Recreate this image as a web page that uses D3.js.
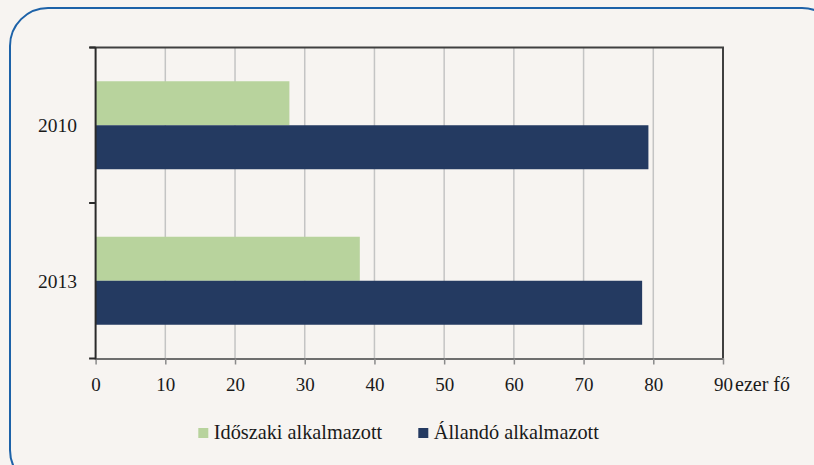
<!DOCTYPE html>
<html>
<head>
<meta charset="utf-8">
<script src="https://cdn.jsdelivr.net/npm/d3@7"></script>
<style>
  body { margin: 0; background: #f7f4f1; }
  svg text { font-family: "Liberation Serif", "Times New Roman", "Noto Serif", "DejaVu Serif", Georgia, serif !important; }
</style>
</head>
<body>
<div class="div-chart"></div>
<script>
// chart data
const years = ["2010", "2013"];
const seriesNames = ["Időszaki alkalmazott", "Állandó alkalmazott"];
const temporaryValues = [27.8, 37.9];
const permanentValues = [79.3, 78.4];
const xTicks = [0, 10, 20, 30, 40, 50, 60, 70, 80, 90];
const unitLabel = "ezer fő";

const width = 814,
  height = 465;

const colors = ["#b8d39d", "#243a61"];

const svg = d3
  .select(".div-chart")
  .append("svg")
  .attr("width", width)
  .attr("height", height);

// rounded frame
svg
  .append("rect")
  .attr("x", 10)
  .attr("y", 8)
  .attr("width", 830)
  .attr("height", 480)
  .attr("rx", 38)
  .attr("fill", "#f7f4f1")
  .attr("stroke", "#1d62a8")
  .attr("stroke-width", 2);

const plot = { left: 95.6, right: 723, top: 47.5, bottom: 358.5 };

const x = d3.scaleLinear().domain([0, 90]).range([plot.left, plot.right]);

const y = d3
  .scaleBand()
  .domain(years)
  .range([plot.top, plot.bottom])
  .padding(0);

const ySub = d3
  .scaleBand()
  .domain(seriesNames)
  .range([0, y.bandwidth()])
  .paddingInner(0)
  .paddingOuter(0.767);

// vertical gridlines
svg
  .append("g")
  .selectAll("line")
  .data(xTicks.slice(1, -1))
  .join("line")
  .attr("x1", (d) => x(d))
  .attr("x2", (d) => x(d))
  .attr("y1", plot.top)
  .attr("y2", plot.bottom)
  .attr("stroke", "#c4c4c4")
  .attr("stroke-width", 1.5);

// bars
const rows = years.map((yr, i) => ({
  year: yr,
  values: [temporaryValues[i], permanentValues[i]],
}));

const groups = svg
  .append("g")
  .selectAll("g")
  .data(rows)
  .join("g")
  .attr("transform", (d) => `translate(0,${y(d.year)})`);

groups
  .selectAll("rect")
  .data((d) => d.values.map((v, j) => ({ name: seriesNames[j], value: v, j })))
  .join("rect")
  .attr("x", x(0))
  .attr("y", (d) => ySub(d.name))
  .attr("width", (d) => x(d.value) - x(0))
  .attr("height", ySub.bandwidth())
  .attr("fill", (d) => colors[d.j]);

// top and right frame of the plot area
svg
  .append("path")
  .attr("d", `M${plot.left - 6},${plot.top}H${plot.right}V${plot.bottom}`)
  .attr("fill", "none")
  .attr("stroke", "#404040")
  .attr("stroke-width", 2);

// bottom axis
const xAxis = svg
  .append("g")
  .attr("transform", `translate(0,${plot.bottom})`)
  .call(d3.axisBottom(x).tickValues(xTicks).tickSize(6).tickSizeOuter(0));

xAxis.select(".domain").attr("stroke", "#6e6e6e").attr("stroke-width", 2);
xAxis.selectAll(".tick line").attr("stroke", "#8a8a8a").attr("stroke-width", 1.5);
xAxis
  .selectAll(".tick text")
  .attr("y", 18.8)
  .attr("font-size", 19)
  .attr("fill", "#1a1a1a");

svg
  .append("text")
  .attr("x", 735)
  .attr("y", plot.bottom + 32.2)
  .attr("font-size", 20)
  .attr("fill", "#1a1a1a")
  .text(unitLabel);

// left category axis
svg
  .append("line")
  .attr("x1", plot.left)
  .attr("x2", plot.left)
  .attr("y1", plot.top)
  .attr("y2", plot.bottom + 1)
  .attr("stroke", "#2a2a2a")
  .attr("stroke-width", 2);

const edges = years.map((d) => y(d)).concat([plot.bottom]);
svg
  .append("g")
  .selectAll("line")
  .data(edges)
  .join("line")
  .attr("x1", plot.left - 6.5)
  .attr("x2", plot.left)
  .attr("y1", (d) => d)
  .attr("y2", (d) => d)
  .attr("stroke", "#2a2a2a")
  .attr("stroke-width", 2);

svg
  .append("g")
  .selectAll("text")
  .data(years)
  .join("text")
  .attr("x", 77)
  .attr("y", (d) => y(d) + y.bandwidth() / 2)
  .attr("dy", "0.35em")
  .attr("text-anchor", "end")
  .attr("font-size", 19.5)
  .attr("fill", "#1a1a1a")
  .text((d) => d);

// legend
const legendX = [198.3, 418.3];
const legend = svg
  .append("g")
  .selectAll("g")
  .data(seriesNames)
  .join("g")
  .attr("transform", (d, i) => `translate(${legendX[i]},428)`);

legend
  .append("rect")
  .attr("width", 10)
  .attr("height", 10)
  .attr("fill", (d, i) => colors[i]);

legend
  .append("text")
  .attr("x", 15.5)
  .attr("y", 11.3)
  .attr("font-size", 20.3)
  .attr("fill", "#1a1a1a")
  .text((d) => d);
</script>
</body>
</html>
